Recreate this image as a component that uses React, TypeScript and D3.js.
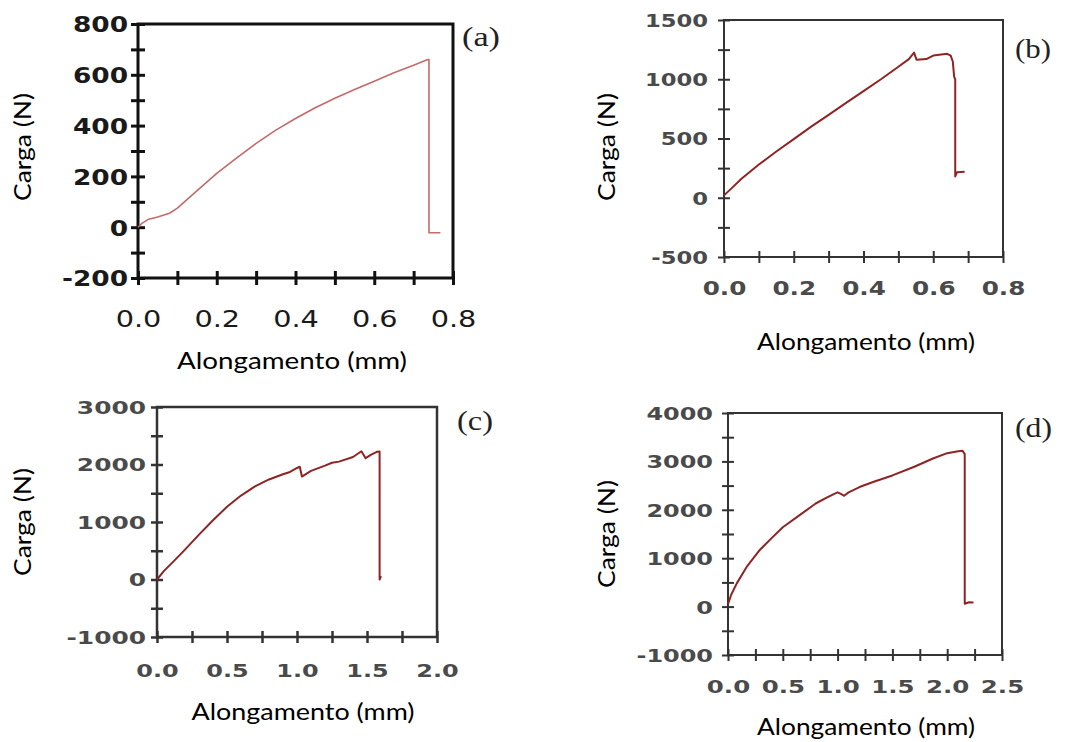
import { useEffect, useRef } from "react";
import * as d3 from "d3";

type Pt = [number, number];

// load-elongation curves
const curveA: Pt[] = [
  [0, 0], [0.01, 15], [0.025, 30], [0.05, 40], [0.08, 55], [0.1, 75], [0.14, 130],
  [0.2, 212], [0.25, 272], [0.3, 330], [0.35, 382], [0.4, 428], [0.45, 470],
  [0.5, 508], [0.55, 542], [0.6, 575], [0.65, 608], [0.7, 638], [0.736, 660],
  [0.739, 660], [0.739, -22], [0.768, -22],
];
const curveB: Pt[] = [
  [0, 20], [0.02, 75], [0.05, 160], [0.1, 280], [0.15, 390], [0.2, 495], [0.25, 600],
  [0.3, 700], [0.35, 800], [0.4, 900], [0.45, 1000], [0.5, 1105], [0.53, 1170],
  [0.545, 1225], [0.552, 1165], [0.58, 1170], [0.6, 1200], [0.64, 1215], [0.65, 1200],
  [0.656, 1150], [0.66, 1020], [0.663, 1000], [0.663, 180], [0.668, 215], [0.69, 220],
];
const curveC: Pt[] = [
  [0, 0], [0.05, 150], [0.12, 320], [0.2, 520], [0.3, 780], [0.4, 1030], [0.5, 1265],
  [0.6, 1460], [0.7, 1620], [0.75, 1680], [0.8, 1740], [0.9, 1830], [0.95, 1870],
  [1.0, 1940], [1.02, 1960], [1.035, 1790], [1.1, 1890], [1.2, 1980], [1.25, 2030],
  [1.3, 2050], [1.4, 2130], [1.46, 2230], [1.49, 2110], [1.53, 2170], [1.57, 2220],
  [1.59, 2225], [1.59, 0], [1.6, 60],
];
const curveD: Pt[] = [
  [0, 50], [0.03, 250], [0.08, 480], [0.17, 820], [0.29, 1170], [0.4, 1420], [0.5, 1640],
  [0.66, 1900], [0.8, 2130], [0.9, 2250], [0.97, 2330], [1.0, 2360], [1.03, 2330],
  [1.06, 2290], [1.1, 2360], [1.2, 2470], [1.33, 2580], [1.5, 2710], [1.7, 2890],
  [1.87, 3060], [2.0, 3170], [2.1, 3210], [2.14, 3220], [2.16, 3150], [2.16, 60],
  [2.2, 90], [2.24, 85],
];

// tick labels (every other tick carries one)
const xLabelsA = ["0.0", "0.2", "0.4", "0.6", "0.8"];
const yLabelsA = ["-200", "0", "200", "400", "600", "800"];
const xLabelsB = ["0.0", "0.2", "0.4", "0.6", "0.8"];
const yLabelsB = ["-500", "0", "500", "1000", "1500"];
const xLabelsC = ["0.0", "0.5", "1.0", "1.5", "2.0"];
const yLabelsC = ["-1000", "0", "1000", "2000", "3000"];
const xLabelsD = ["0.0", "0.5", "1.0", "1.5", "2.0", "2.5"];
const yLabelsD = ["-1000", "0", "1000", "2000", "3000", "4000"];

const panelTags = ["(a)", "(b)", "(c)", "(d)"];
const xTitle = "Alongamento (mm)";
const yTitle = "Carga (N)";

const panels = [
  {
    tag: panelTags[0], curve: curveA, xLabels: xLabelsA, yLabels: yLabelsA,
    left: 138, right: 453, top: 24, bottom: 278,
    frame: "#111", sw: 3, tick: 7, lineColor: "#c46a6a", lineW: 1.6,
    yLab: { x: 128, size: 22, weight: "bold", fill: "#1a1a1a", sx: 1.2 },
    xLab: { y: 327, size: 23, weight: "normal", fill: "#1a1a1a", sx: 1.25 },
    yt: { x: 23, y: 147 }, xt: { x: 292, y: 369, len: 230 },
    tg: { x: 462, y: 46, len: 38 },
  },
  {
    tag: panelTags[1], curve: curveB, xLabels: xLabelsB, yLabels: yLabelsB,
    left: 724, right: 1003, top: 20, bottom: 257,
    frame: "#333", sw: 2, tick: 6, lineColor: "#8e2424", lineW: 2,
    yLab: { x: 708, size: 18, weight: "bold", fill: "#4a4a4a", sx: 1.26 },
    xLab: { y: 295, size: 19, weight: "bold", fill: "#4a4a4a", sx: 1.3 },
    yt: { x: 607, y: 147 }, xt: { x: 866, y: 350, len: 218 },
    tg: { x: 1015, y: 58, len: 36 },
  },
  {
    tag: panelTags[2], curve: curveC, xLabels: xLabelsC, yLabels: yLabelsC,
    left: 157, right: 437, top: 407, bottom: 637,
    frame: "#333", sw: 2.5, tick: 6, lineColor: "#8e2424", lineW: 2,
    yLab: { x: 146, size: 18, weight: "bold", fill: "#4a4a4a", sx: 1.38 },
    xLab: { y: 677, size: 18, weight: "bold", fill: "#4a4a4a", sx: 1.33 },
    yt: { x: 23, y: 522 }, xt: { x: 303, y: 720, len: 223 },
    tg: { x: 457, y: 430, len: 36 },
  },
  {
    tag: panelTags[3], curve: curveD, xLabels: xLabelsD, yLabels: yLabelsD,
    left: 728, right: 1002, top: 413, bottom: 655,
    frame: "#333", sw: 2, tick: 6, lineColor: "#8e2424", lineW: 2,
    yLab: { x: 713, size: 18, weight: "bold", fill: "#4a4a4a", sx: 1.33 },
    xLab: { y: 693, size: 18, weight: "bold", fill: "#4a4a4a", sx: 1.36 },
    yt: { x: 607, y: 534 }, xt: { x: 866, y: 735, len: 218 },
    tg: { x: 1015, y: 437, len: 37 },
  },
];

const App = () => {
  const ref = useRef<SVGSVGElement>(null);

  useEffect(() => {
    const svg = d3.select(ref.current);
    svg.selectAll("*").remove();

    panels.forEach((p) => {
      const xs = p.xLabels.map(Number);
      const ys = p.yLabels.map(Number);
      const x = d3.scaleLinear().domain([xs[0], xs[xs.length - 1]]).range([p.left, p.right]);
      const y = d3.scaleLinear().domain([ys[0], ys[ys.length - 1]]).range([p.bottom, p.top]);

      // minor tick halfway between labelled ones
      const xTicks = d3.range((xs.length - 1) * 2 + 1).map((i) => xs[0] + ((xs[1] - xs[0]) / 2) * i);
      const yTicks = d3.range((ys.length - 1) * 2 + 1).map((i) => ys[0] + ((ys[1] - ys[0]) / 2) * i);

      const g = svg.append("g");

      g.append("rect")
        .attr("x", p.left).attr("y", p.top)
        .attr("width", p.right - p.left).attr("height", p.bottom - p.top)
        .attr("fill", "none").attr("stroke", p.frame).attr("stroke-width", p.sw);

      const ya = g.append("g")
        .attr("transform", `translate(${p.left},0)`)
        .call(d3.axisLeft(y).tickValues(yTicks).tickSize(0)
          .tickFormat((_d, i) => (i % 2 === 0 ? p.yLabels[i / 2] : "")));
      ya.select(".domain").remove();
      ya.selectAll(".tick line")
        .attr("x1", -p.tick).attr("x2", p.tick)
        .attr("stroke", p.frame).attr("stroke-width", p.sw);
      ya.selectAll(".tick text")
        .attr("x", 0).attr("dy", "0.36em")
        .attr("text-anchor", "end")
        .attr("transform", `translate(${p.yLab.x - p.left},0) scale(${p.yLab.sx},1)`)
        .style("font-family", "'DejaVu Sans', Verdana, sans-serif")
        .style("font-size", `${p.yLab.size}px`)
        .style("font-weight", p.yLab.weight)
        .attr("fill", p.yLab.fill);

      const xa = g.append("g")
        .attr("transform", `translate(0,${p.bottom})`)
        .call(d3.axisBottom(x).tickValues(xTicks).tickSize(0)
          .tickFormat((_d, i) => (i % 2 === 0 ? p.xLabels[i / 2] : "")));
      xa.select(".domain").remove();
      xa.selectAll(".tick line")
        .attr("y1", -p.tick).attr("y2", p.tick)
        .attr("stroke", p.frame).attr("stroke-width", p.sw);
      xa.selectAll(".tick text")
        .attr("y", 0).attr("dy", null)
        .attr("text-anchor", "middle")
        .attr("transform", `translate(0,${p.xLab.y - p.bottom}) scale(${p.xLab.sx},1)`)
        .style("font-family", "'DejaVu Sans', Verdana, sans-serif")
        .style("font-size", `${p.xLab.size}px`)
        .style("font-weight", p.xLab.weight)
        .attr("fill", p.xLab.fill);

      const line = d3.line<Pt>().x((d) => x(d[0])).y((d) => y(d[1]));
      g.append("path")
        .datum(p.curve)
        .attr("d", line)
        .attr("fill", "none")
        .attr("stroke", p.lineColor)
        .attr("stroke-width", p.lineW)
        .attr("stroke-linejoin", "round");

      g.append("text")
        .attr("transform", `translate(${p.yt.x},${p.yt.y}) rotate(-90)`)
        .attr("text-anchor", "middle")
        .attr("dy", "0.35em")
        .attr("textLength", 108)
        .attr("lengthAdjust", "spacingAndGlyphs")
        .style("font-family", "Lato, 'Open Sans', sans-serif")
        .style("font-size", "24px")
        .attr("fill", "#000")
        .text(yTitle);

      g.append("text")
        .attr("x", p.xt.x - p.xt.len / 2).attr("y", p.xt.y)
        .attr("textLength", p.xt.len)
        .attr("lengthAdjust", "spacingAndGlyphs")
        .style("font-family", "Lato, 'Open Sans', sans-serif")
        .style("font-size", "24px")
        .attr("fill", "#000")
        .text(xTitle);

      g.append("text")
        .attr("x", p.tg.x).attr("y", p.tg.y)
        .attr("textLength", p.tg.len)
        .attr("lengthAdjust", "spacingAndGlyphs")
        .style("font-family", "'Liberation Serif', 'DejaVu Serif', serif")
        .style("font-size", "27px")
        .attr("fill", "#222")
        .text(p.tag);
    });
  }, []);

  return (
    <svg
      ref={ref}
      width={1088}
      height={742}
      style={{ position: "absolute", left: 0, top: 0, background: "#fff" }}
    />
  );
};

export default App;
